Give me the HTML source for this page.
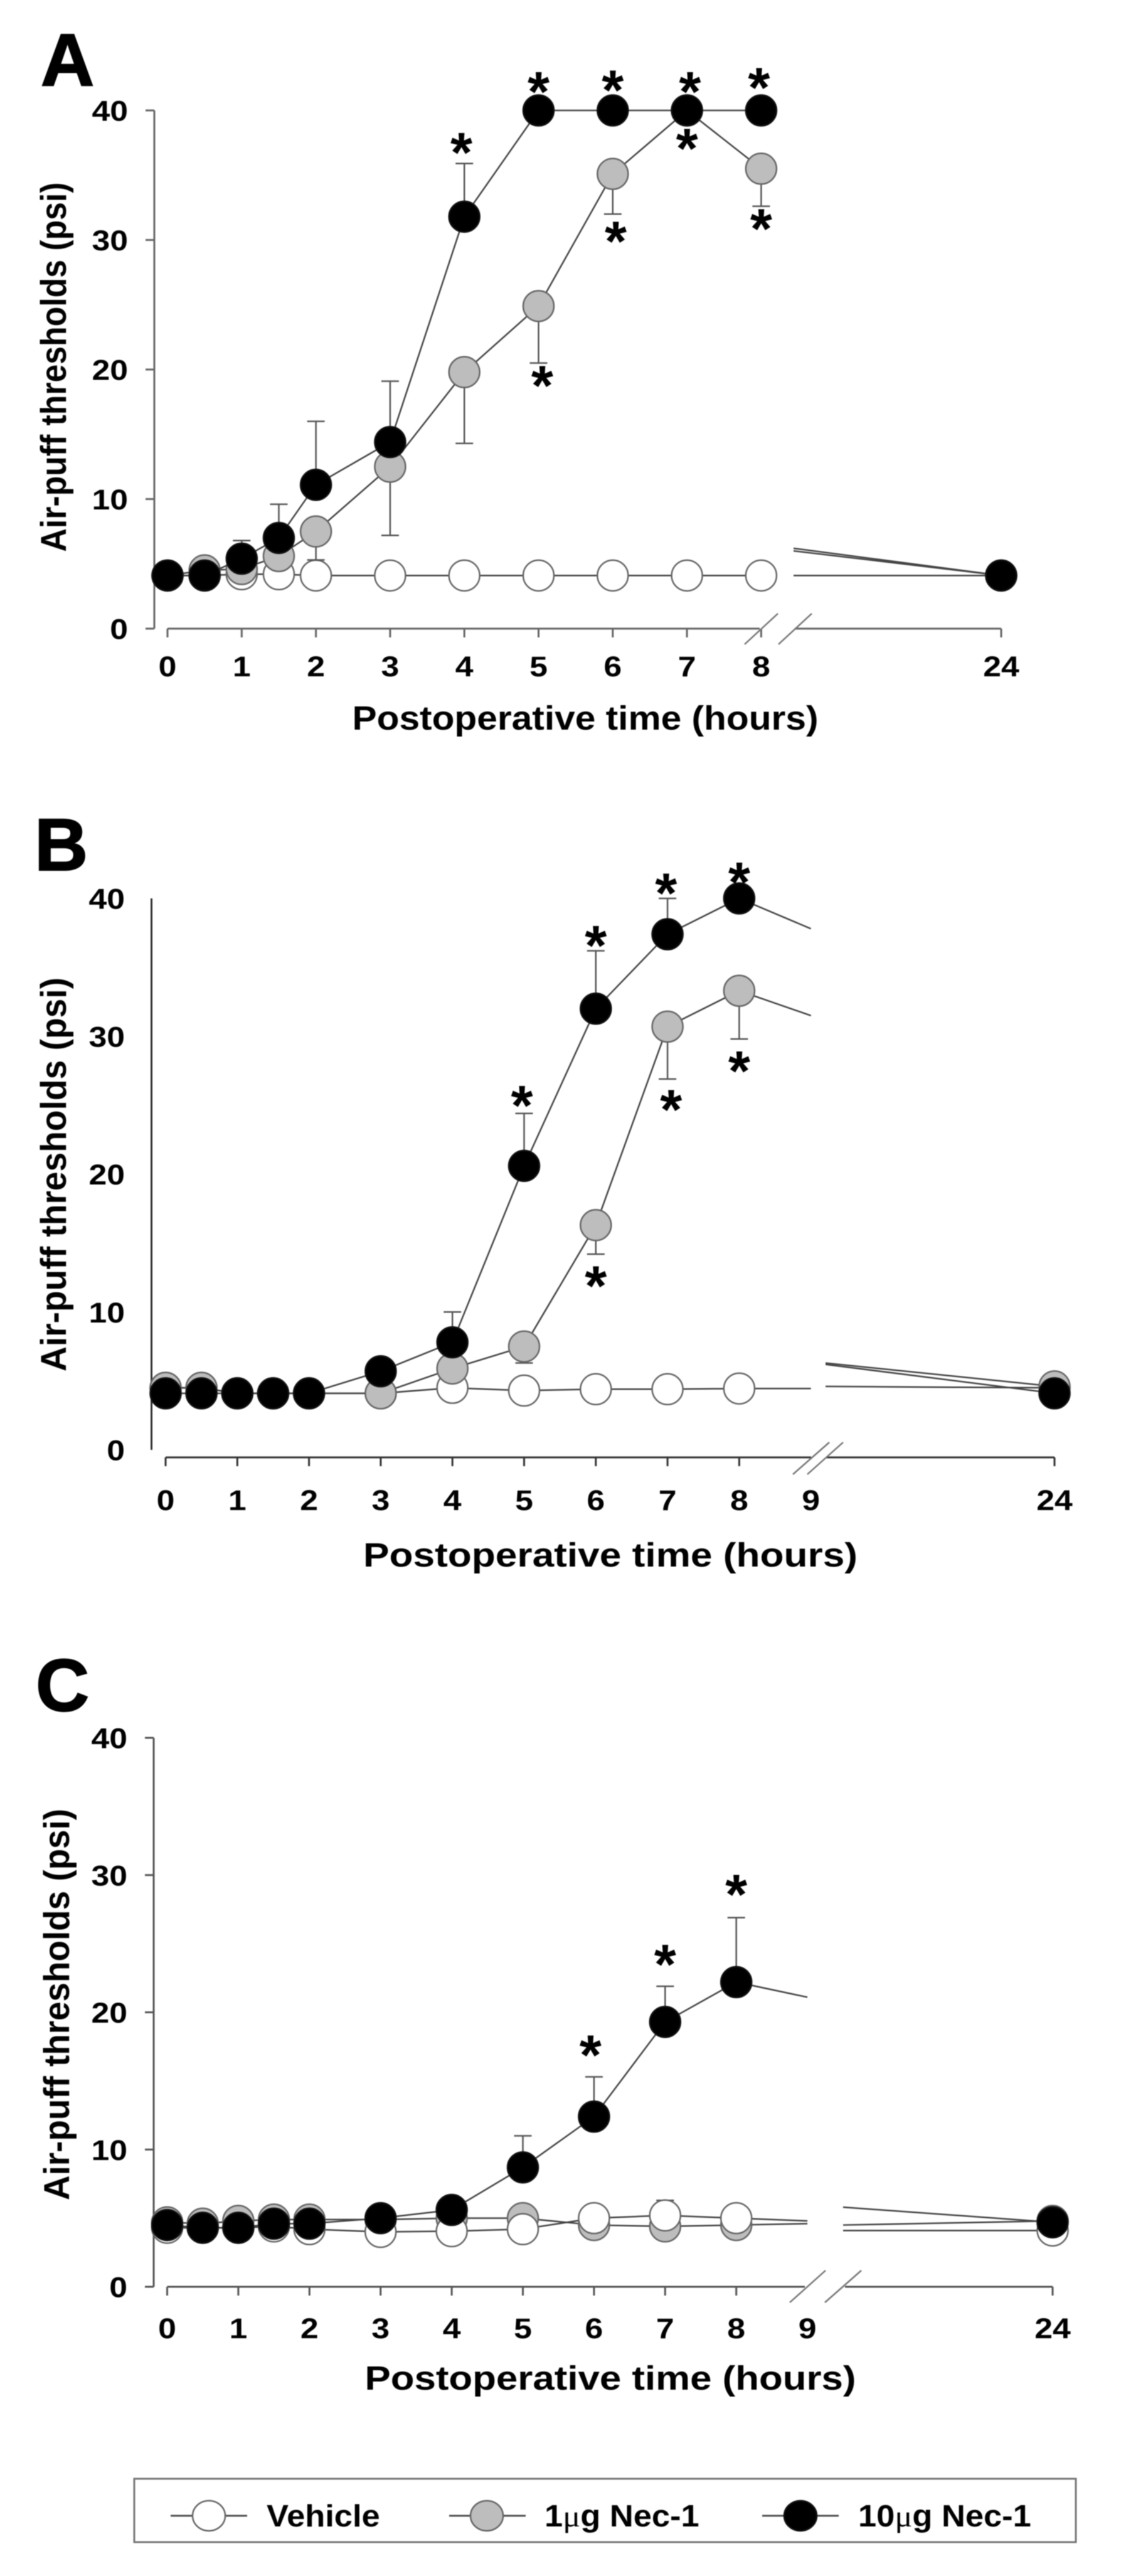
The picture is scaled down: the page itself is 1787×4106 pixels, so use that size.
<!DOCTYPE html>
<html lang="en">
<head>
<meta charset="utf-8">
<title>Air-puff thresholds over postoperative time</title>
<style>
html,body{margin:0;padding:0;background:#fff;}
svg{display:block;}
text{font-family:"Liberation Sans",sans-serif;font-weight:bold;fill:#000;}
#art{filter:blur(0.7px);}
</style>
</head>
<body>
<svg id="chart" xmlns="http://www.w3.org/2000/svg" width="1787" height="4106" viewBox="0 0 1787 4106">
<g id="art">
<rect x="0" y="0" width="1787" height="4106" fill="#fff"/>
<g id="panels"></g>
<g>
  <rect x="214" y="3951" width="1501" height="101" fill="#fff" stroke="#777" stroke-width="3"/>
  <g>
    <line x1="272" y1="4010" x2="394" y2="4010" stroke="#555" stroke-width="3"/>
    <ellipse cx="333" cy="4010" rx="26" ry="24" fill="#fff" stroke="#666" stroke-width="2.5"/>
    <text transform="translate(425,4027) scale(1.07,1)" font-size="49">Vehicle</text>
  </g>
  <g>
    <line x1="716" y1="4010" x2="838" y2="4010" stroke="#555" stroke-width="3"/>
    <ellipse cx="776" cy="4010" rx="26" ry="24" fill="#bdbdbd" stroke="#666" stroke-width="2.5"/>
    <text transform="translate(868,4027) scale(1.07,1)" font-size="49">1<tspan font-family="Liberation Serif" font-weight="normal">μ</tspan>g Nec-1</text>
  </g>
  <g>
    <line x1="1215" y1="4010" x2="1337" y2="4010" stroke="#555" stroke-width="3"/>
    <ellipse cx="1276" cy="4010" rx="26" ry="24" fill="#000" stroke="#111" stroke-width="2.5"/>
    <text transform="translate(1368,4027) scale(1.07,1)" font-size="49">10<tspan font-family="Liberation Serif" font-weight="normal">μ</tspan>g Nec-1</text>
  </g>
</g>
</g>
</svg>
<script>
// ---- Panel A data ----
const aHours = [0, 0.5, 1, 1.5, 2, 3, 4, 5, 6, 7, 8, 24];
const aVehicle = [4.1, 4.1, 4.2, 4.2, 4.1, 4.1, 4.1, 4.1, 4.1, 4.1, 4.1, 4.1];
const aLow = [4.1, 4.5, 4.6, 5.6, 7.5, 12.5, 19.8, 24.9, 35.1, 40, 35.5, 4.1];
const aHigh = [4.1, 4.1, 5.4, 7, 11.1, 14.4, 31.8, 40, 40, 40, 40, 4.1];
const aLowErrHours = [2, 3, 4, 5, 6, 8];
const aLowErrEnds = [5.3, 7.2, 14.3, 20.5, 32, 32.6];
const aHighErrHours = [1, 1.5, 2, 3, 4];
const aHighErrEnds = [6.8, 9.6, 16, 19.1, 35.9];
const aVehicleErrHours = [];
const aVehicleErrEnds = [];
const aStubStarts = [4.1, 6.2, 6.0];
const aStarHours = [5, 6, 7.04, 7.97, 3.96, 7, 6.04, 8, 5.05];
const aStarValues = [41.9, 42, 41.9, 42.2, 37.2, 37.5, 30.35, 31.3, 19.2];
const aTickHours = [0, 1, 2, 3, 4, 5, 6, 7, 8, 24];

// ---- Panel B data ----
const bHours = [0, 0.5, 1, 1.5, 2, 3, 4, 5, 6, 7, 8, 9, 24];
const bVehicle = [4.5, 4.5, 4.1, 4.1, 4.1, 4.1, 4.5, 4.3, 4.4, 4.4, 4.45, 4.45, 4.5];
const bLow = [4.5, 4.5, 4.1, 4.1, 4.1, 4.1, 5.9, 7.5, 16.3, 30.7, 33.3, 31.5, 4.6];
const bHigh = [4.1, 4.1, 4.1, 4.1, 4.1, 5.7, 7.8, 20.6, 32, 37.4, 40, 37.8, 4.1];
const bLowErrHours = [5, 6, 7, 8];
const bLowErrEnds = [6.3, 14.2, 26.9, 29.8];
const bHighErrHours = [4, 5, 6, 7];
const bHighErrEnds = [10, 24.4, 36.2, 40];
const bVehicleErrHours = [];
const bVehicleErrEnds = [];
const bStubStarts = [4.6, 6.3, 6.2];
const bStarHours = [8, 6.98, 6, 4.97, 8, 7.05, 6];
const bStarValues = [41.6, 40.8, 37, 25.4, 27.9, 25.1, 12.3];
const bTickHours = [0, 1, 2, 3, 4, 5, 6, 7, 8, 9, 24];

// ---- Panel C data ----
const cHours = [0, 0.5, 1, 1.5, 2, 3, 4, 5, 6, 7, 8, 9, 24];
const cVehicle = [4.3, 4.3, 4.3, 4.4, 4.2, 4.0, 4.05, 4.2, 5, 5.2, 5, 4.8, 4.1];
const cLow = [4.7, 4.6, 4.8, 4.9, 4.9, 4.9, 5.0, 5.0, 4.5, 4.4, 4.5, 4.6, 4.8];
const cHigh = [4.5, 4.3, 4.3, 4.6, 4.6, 5.0, 5.6, 8.7, 12.4, 19.3, 22.2, 21.1, 4.7];
const cLowErrHours = [];
const cLowErrEnds = [];
const cHighErrHours = [4, 5, 6, 7, 8];
const cHighErrEnds = [6.5, 11, 15.3, 21.9, 26.9];
const cVehicleErrHours = [7];
const cVehicleErrEnds = [6.3];
const cStubStarts = [4.1, 4.5, 5.8];
const cStarHours = [8, 7, 5.95];
const cStarValues = [29, 23.9, 17.3];
const cTickHours = [0, 1, 2, 3, 4, 5, 6, 7, 8, 9, 24];

// Shared axis labels
const yTicks = [0, 10, 20, 30, 40];

const NS = 'http://www.w3.org/2000/svg';
const root = document.getElementById('panels');

function add(parent, tag, attrs, txt) {
  const el = document.createElementNS(NS, tag);
  for (const k in attrs) el.setAttribute(k, attrs[k]);
  if (txt !== undefined) el.textContent = txt;
  parent.appendChild(el);
  return el;
}

const seriesStyle = {
  vehicle: { fill: '#fff', stroke: '#666' },
  low: { fill: '#bdbdbd', stroke: '#666' },
  high: { fill: '#000', stroke: '#111' }
};

function drawPanel(p, d) {
  const g = add(root, 'g', {});
  
  

  const X = h => h === 24 ? p.x24 : p.x0 + h * p.hour;
  const Y = v => p.y0 - v * (p.y0 - p.y40) / 40;
  const axisColor = p.axisColor;

  // Panel letter
  const letter = add(g, 'text', { x: p.letterX, y: p.letterY, 'font-size': 118, stroke: '#000', 'stroke-width': 2 }, p.letter);
  
  

  // Y axis
  const yAxis = add(g, 'line', { x1: p.yAxisX, y1: Y(40), x2: p.yAxisX, y2: p.yAxisEnd, stroke: axisColor, 'stroke-width': 3 });
  
  
  yTicks.forEach(v => {
    if (p.yTickLen > 0) {
      const t = add(g, 'line', { x1: p.yAxisX - p.yTickLen, y1: Y(v), x2: p.yAxisX, y2: Y(v), stroke: axisColor, 'stroke-width': 3 });
      
      
    }
    const l = add(g, 'text', { transform: 'translate(' + p.yLabelRight + ',' + (Y(v) + 16.5) + ') scale(1.15,1)', 'font-size': 45, 'text-anchor': 'end' }, String(v));
    
    
  });
  const yTitle = add(g, 'text', {
    transform: 'translate(' + p.yTitleX + ',' + p.yTitleCy + ') rotate(-90) scale(1,1.15)',
    'font-size': 50, 'text-anchor': 'middle', textLength: p.yTitleLen, lengthAdjust: 'spacingAndGlyphs'
  }, 'Air-puff thresholds (psi)');
  
  

  // X axis
  const xLeft = add(g, 'line', { x1: X(0), y1: p.xAxisY, x2: p.axisBreakL, y2: p.xAxisY, stroke: axisColor, 'stroke-width': 3 });
  
  
  const xRight = add(g, 'line', { x1: p.axisBreakR, y1: p.xAxisY, x2: X(24), y2: p.xAxisY, stroke: axisColor, 'stroke-width': 3 });
  
  
  d.ticks.forEach(h => {
    if (h !== 9) {
      const t = add(g, 'line', { x1: X(h), y1: p.xAxisY, x2: X(h), y2: p.xAxisY + 14, stroke: axisColor, 'stroke-width': 3 });
      
      
    }
    const l = add(g, 'text', { transform: 'translate(' + X(h) + ',' + p.xLabelY + ') scale(1.15,1)', 'font-size': 45, 'text-anchor': 'middle' }, String(h));
    
    
  });
  p.slashes.forEach(s => {
    const b = add(g, 'line', { x1: s[0], y1: p.slashBottom, x2: s[1], y2: p.slashTop, stroke: '#777', 'stroke-width': 2.5 });
    
    
  });
  const xTitle = add(g, 'text', {
    x: p.xTitleX, y: p.xTitleY, 'font-size': 54, 'text-anchor': 'middle', textLength: p.xTitleLen, lengthAdjust: 'spacingAndGlyphs'
  }, 'Postoperative time (hours)');
  
  

  const series = {
    vehicle: { values: d.vehicle, stub: d.stubs[0], errH: d.vehicleErrH, errE: d.vehicleErrE },
    low: { values: d.low, stub: d.stubs[1], errH: d.lowErrH, errE: d.lowErrE },
    high: { values: d.high, stub: d.stubs[2], errH: d.highErrH, errE: d.highErrE }
  };

  p.order.forEach(key => {
    const s = series[key];
    const st = seriesStyle[key];
    const sg = add(g, 'g', {});
    
    

    // error bars
    s.errH.forEach((h, i) => {
      const idx = d.hours.indexOf(h);
      const bar = add(sg, 'path', {
        d: 'M' + X(h) + ' ' + Y(s.values[idx]) + 'V' + Y(s.errE[i]) + 'M' + (X(h) - 14) + ' ' + Y(s.errE[i]) + 'H' + (X(h) + 14),
        fill: 'none', stroke: '#555', 'stroke-width': 2.5
      });
      
      
    });

    // line before the break
    const n = d.hours.length - 1;
    let pts = '';
    for (let i = 0; i < n; i++) pts += X(d.hours[i]) + ',' + Y(s.values[i]) + ' ';
    const ln = add(sg, 'polyline', { points: pts, fill: 'none', stroke: '#444', 'stroke-width': 2.5 });
    
    

    // line after the break
    const stub = add(sg, 'line', { x1: p.stubX, y1: Y(s.stub), x2: X(24), y2: Y(s.values[n]), stroke: '#444', 'stroke-width': 2.5 });
    
    

    // markers (hour 9 only anchors the line)
    d.hours.forEach((h, i) => {
      if (h === 9) return;
      const c = add(sg, 'circle', { cx: X(h), cy: Y(s.values[i]), r: 24.5, fill: st.fill, stroke: st.stroke, 'stroke-width': 2.5 });
      
      
    });
  });

  // significance asterisks
  d.starH.forEach((h, i) => {
    const star = add(g, 'text', { x: X(h), y: Y(d.starV[i]) + 40, 'font-size': 90, 'text-anchor': 'middle' }, '*');
    
    
  });
}

drawPanel({
  id: 'a', letter: 'A', letterX: 65, letterY: 136, x0: 267, hour: 118.3, x24: 1596, y40: 176, y0: 1002,
  yAxisX: 246, yAxisEnd: 1002, xAxisY: 1002, yTickLen: 14, axisColor: '#666', yLabelRight: 204, yTitleX: 105, yTitleCy: 585, yTitleLen: 589,
  xLabelY: 1078, xTitleX: 933, xTitleY: 1163, xTitleLen: 743, axisBreakL: 1211, axisBreakR: 1267,
  slashes: [[1187, 1240], [1241, 1294]], slashTop: 978, slashBottom: 1027, stubX: 1265, order: ['vehicle', 'low', 'high']
}, {
  hours: aHours, vehicle: aVehicle, low: aLow, high: aHigh, stubs: aStubStarts,
  vehicleErrH: aVehicleErrHours, vehicleErrE: aVehicleErrEnds, lowErrH: aLowErrHours, lowErrE: aLowErrEnds,
  highErrH: aHighErrHours, highErrE: aHighErrEnds, starH: aStarHours, starV: aStarValues, ticks: aTickHours
});

drawPanel({
  id: 'b', letter: 'B', letterX: 55, letterY: 1387, x0: 264, hour: 114.3, x24: 1681, y40: 1432, y0: 2311,
  yAxisX: 241.5, yAxisEnd: 2311, xAxisY: 2323, yTickLen: 0, axisColor: '#333', yLabelRight: 199, yTitleX: 105, yTitleCy: 1872, yTitleLen: 628,
  xLabelY: 2407, xTitleX: 973, xTitleY: 2497, xTitleLen: 788, axisBreakL: 1293, axisBreakR: 1317,
  slashes: [[1264, 1322], [1287, 1344]], slashTop: 2299, slashBottom: 2350, stubX: 1316, order: ['vehicle', 'low', 'high']
}, {
  hours: bHours, vehicle: bVehicle, low: bLow, high: bHigh, stubs: bStubStarts,
  vehicleErrH: bVehicleErrHours, vehicleErrE: bVehicleErrEnds, lowErrH: bLowErrHours, lowErrE: bLowErrEnds,
  highErrH: bHighErrHours, highErrE: bHighErrEnds, starH: bStarHours, starV: bStarValues, ticks: bTickHours
});

drawPanel({
  id: 'c', letter: 'C', letterX: 57, letterY: 2727, x0: 266.5, hour: 113.4, x24: 1678, y40: 2770, y0: 3645,
  yAxisX: 245, yAxisEnd: 3645, xAxisY: 3645, yTickLen: 14, axisColor: '#555', yLabelRight: 203, yTitleX: 110, yTitleCy: 3195, yTitleLen: 624,
  xLabelY: 3727, xTitleX: 973, xTitleY: 3809, xTitleLen: 783, axisBreakL: 1283, axisBreakR: 1347,
  slashes: [[1259, 1316], [1315, 1373]], slashTop: 3619, slashBottom: 3670, stubX: 1344, order: ['low', 'vehicle', 'high']
}, {
  hours: cHours, vehicle: cVehicle, low: cLow, high: cHigh, stubs: cStubStarts,
  vehicleErrH: cVehicleErrHours, vehicleErrE: cVehicleErrEnds, lowErrH: cLowErrHours, lowErrE: cLowErrEnds,
  highErrH: cHighErrHours, highErrE: cHighErrEnds, starH: cStarHours, starV: cStarValues, ticks: cTickHours
});
</script>
</body>
</html>
